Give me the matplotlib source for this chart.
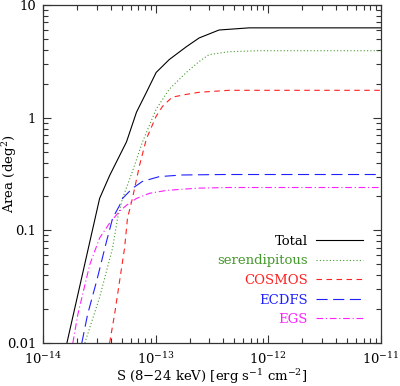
import numpy as np
import matplotlib
matplotlib.use("Agg")
import matplotlib.pyplot as plt
from matplotlib.ticker import LogLocator, NullFormatter, FixedFormatter, FixedLocator

plt.rcParams['font.family'] = ['DejaVu Serif']
plt.rcParams['mathtext.fontset'] = 'dejavuserif'

# flux limits (erg/s/cm2) and area (deg2)
s_total = [1.63e-14, 3.18e-14, 3.90e-14, 5.51e-14, 6.76e-14, 8.28e-14, 1.01e-13,
           1.32e-13, 1.87e-13, 2.43e-13, 3.65e-13, 6.76e-13, 1e-11]
a_total = [0.01, 0.192, 0.306, 0.61, 1.12, 1.68, 2.52, 3.28, 4.26, 5.1, 6.0, 6.27, 6.27]

s_seren = [2.35e-14, 3.18e-14, 4.15e-14, 4.59e-14, 5.08e-14, 6.22e-14, 7.64e-14,
           1.01e-13, 1.32e-13, 1.87e-13, 2.43e-13, 2.98e-13, 4.47e-13, 8.22e-13, 1e-11]
a_seren = [0.01, 0.0254, 0.070, 0.128, 0.192, 0.333, 0.61, 1.19, 1.79, 2.52, 3.15,
           3.63, 3.85, 3.93, 3.93]

s_cosmos = [3.90e-14, 4.32e-14, 4.79e-14, 5.30e-14, 5.62e-14, 6.22e-14, 7.18e-14,
            8.28e-14, 1.01e-13, 1.15e-13, 1.40e-13, 1.87e-13, 2.43e-13, 4.47e-13, 1e-11]
a_cosmos = [0.01, 0.018, 0.0358, 0.070, 0.128, 0.192, 0.375, 0.65, 1.03, 1.26,
            1.52, 1.61, 1.68, 1.75, 1.75]

s_ecdfs = [2.21e-14, 2.49e-14, 3.00e-14, 3.67e-14, 4.15e-14, 4.79e-14, 5.08e-14,
           6.22e-14, 7.64e-14, 1.08e-13, 1.72e-13, 4.0e-13, 1e-11]
a_ecdfs = [0.01, 0.018, 0.0358, 0.0805, 0.128, 0.167, 0.192, 0.236, 0.272, 0.30,
           0.31, 0.313, 0.313]

s_egs = [1.84e-14, 2.04e-14, 2.60e-14, 3.18e-14, 3.90e-14, 4.79e-14, 5.51e-14,
         6.76e-14, 8.79e-14, 1.24e-13, 1.87e-13, 2.43e-13, 4.5e-13, 1e-11]
a_egs = [0.01, 0.018, 0.0496, 0.0855, 0.116, 0.148, 0.167, 0.192, 0.213, 0.226,
         0.233, 0.237, 0.24, 0.24]

labels = ['Total', 'serendipitous', 'COSMOS', 'ECDFS', 'EGS']
colors = ['black', '#45992c', '#ff2020', '#2020ff', '#ff20ff']

fig = plt.figure(figsize=(4.0, 3.86), dpi=100)
ax = fig.add_axes([0.1075, 0.1114, 0.845, 0.8756])

lw = 0.8
ax.plot(s_total, a_total, color=colors[0], lw=lw, label=labels[0])
ax.plot(s_seren, a_seren, color=colors[1], lw=lw, ls=(0, (1, 2)), label=labels[1])
ax.plot(s_cosmos, a_cosmos, color=colors[2], lw=lw, ls=(0, (5, 4)), label=labels[2])
ax.plot(s_ecdfs, a_ecdfs, color=colors[3], lw=lw, ls=(0, (10, 5)), label=labels[3])
ax.plot(s_egs, a_egs, color=colors[4], lw=lw, ls=(0, (6, 2.5, 1, 2.5)), label=labels[4])

ax.set_xscale('log')
ax.set_yscale('log')
ax.set_xlim(1e-14, 1e-11)
ax.set_ylim(0.01, 10)

ax.xaxis.set_major_locator(FixedLocator([1e-14, 1e-13, 1e-12, 1e-11]))
ax.xaxis.set_major_formatter(FixedFormatter([r'$10^{-14}$', r'$10^{-13}$',
                                             r'$10^{-12}$', r'$10^{-11}$']))
ax.yaxis.set_major_locator(FixedLocator([0.01, 0.1, 1, 10]))
ax.yaxis.set_major_formatter(FixedFormatter(['0.01', '0.1', '1', '10']))
for a in (ax.xaxis, ax.yaxis):
    a.set_minor_locator(LogLocator(base=10, subs=np.arange(2, 10), numticks=20))
    a.set_minor_formatter(NullFormatter())

ax.tick_params(which='both', direction='in', top=True, right=True,
               labelsize=9.5, width=0.8, color='#333333')
ax.tick_params(which='major', length=6, pad=5)
ax.tick_params(axis='x', which='major', pad=5.5)
ax.tick_params(which='minor', length=3.5)
for sp in ax.spines.values():
    sp.set_linewidth(0.9)
    sp.set_color('#333333')

ax.set_xlabel(r'S (8$-$24 keV) [erg s$^{-1}$ cm$^{-2}$]', fontsize=9.5)
ax.set_ylabel(r'Area (deg$^2$)', fontsize=9.5)
ax.xaxis.set_label_coords(0.5, -0.07)
ax.yaxis.set_label_coords(-0.07, 0.5)

leg = ax.legend(loc='lower right', bbox_to_anchor=(0.947, 0.05), frameon=False,
                markerfirst=False, labelcolor='linecolor', fontsize=9.5,
                handlelength=3.6, handletextpad=0.6, labelspacing=0.5,
                borderpad=0, borderaxespad=0)

fig.savefig('out.png', dpi=100)
